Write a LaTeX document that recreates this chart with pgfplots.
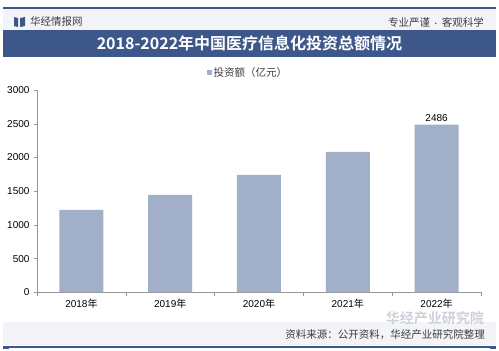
\documentclass[border=0pt]{standalone}
\usepackage{pgfplots}
\pgfplotsset{compat=1.18}
\usepackage{fontspec}
\setmainfont{Liberation Sans}
\newfontfamily\cjk{Noto Sans CJK SC}
\newfontfamily\cjkb{Noto Sans CJK SC Bold}
\definecolor{navy}{RGB}{62,87,138}
\definecolor{barcol}{RGB}{162,175,200}
\definecolor{bandgray}{RGB}{243,244,248}
\definecolor{axgray}{RGB}{150,150,150}
\definecolor{txt}{RGB}{60,60,60}
\definecolor{wm}{RGB}{205,209,216}
\begin{document}
\begin{tikzpicture}
% canvas
\fill[white] (0pt,0pt) rectangle (499pt,-351pt);
% header band
\fill[bandgray] (3pt,-9pt) rectangle (496pt,-30pt);
\draw[navy, line width=1.2pt] (3pt,-8pt) -- (496pt,-8pt);
\fill[navy] (3pt,-6.5pt) rectangle (9pt,-9pt);
\fill[navy] (490pt,-6.5pt) rectangle (496pt,-9pt);
% icon
\fill[navy] (14pt,-17pt) -- (18pt,-18pt) -- (18pt,-27pt) -- (14pt,-26pt) -- cycle;
\fill[navy] (20pt,-18pt) -- (25pt,-17pt) -- (25pt,-26pt) -- (20pt,-27pt) -- cycle;
\node[anchor=west, inner sep=0pt, text=txt, font=\cjk\fontsize{10.5}{12}\selectfont] at (30pt,-22pt) {华经情报网};
\node[anchor=east, inner sep=0pt, text=txt, font=\cjk\fontsize{10.5}{12}\selectfont] at (484pt,-22pt) {专业严谨 {\fontsize{7}{8}\selectfont•} 客观科学};
% title band
\fill[navy] (3pt,-30pt) rectangle (496pt,-57pt);
\node[text=white, inner sep=0pt, font=\cjkb\fontsize{16}{18}\selectfont] at (249.5pt,-43.5pt) {2018-2022年中国医疗信息化投资总额情况};
% footer band
\fill[bandgray] (3pt,-322pt) rectangle (496pt,-345pt);
\draw[navy, line width=1.2pt] (3pt,-347pt) -- (496pt,-347pt);
\fill[navy] (3pt,-345.5pt) rectangle (9pt,-348.5pt);
\fill[navy] (490pt,-345.5pt) rectangle (496pt,-348.5pt);
% watermark bottom right
\node[anchor=east, inner sep=0pt, text=wm, font=\cjkb\fontsize{14}{15}\selectfont] at (484pt,-318pt) {华经产业研究院};
\node[anchor=east, inner sep=0pt, text=txt, font=\cjk\fontsize{10.5}{12}\selectfont] at (485pt,-335pt) {资料来源：公开资料，华经产业研究院整理};
\begin{axis}[
  at={(37pt,-292.3pt)}, anchor=south west,
  scale only axis, width=444pt, height=202.3pt,
  xmin=-0.5, xmax=4.5, ymin=0, ymax=3000,
  ybar, bar width=44pt, bar shift=0pt,
  axis x line*=bottom, axis y line*=left,
  axis line style={axgray},
  tick align=outside,
  xtick={0,...,4},
  xticklabels={2018{\cjk 年},2019{\cjk 年},2020{\cjk 年},2021{\cjk 年},2022{\cjk 年}},
  minor xtick={-0.5,0.5,...,4.5},
  major x tick style={draw=none},
  minor x tick style={axgray},
  minor tick length=4pt,
  ytick={0,500,...,3000},
  y tick style={axgray},
  major tick length=3pt,
  tick label style={font=\fontsize{10}{12}\selectfont, text=black},
  /pgf/number format/assume math mode=true,
  /pgf/number format/1000 sep={},
  yticklabel style={xshift=-1pt},
  legend style={at={(0.475,1.085)}, anchor=center, draw=none, fill=none,
    font=\cjk\fontsize{10.5}{12}\selectfont, text=txt, inner sep=0pt},
  legend image code/.code={\fill[barcol] (0pt,-2.5pt) rectangle (5pt,2.5pt);},
  clip=false,
]
\addplot[fill=barcol, draw=none] coordinates {(0,1222) (1,1445) (2,1742) (3,2082) (4,2486)};
\addlegendentry{投资额（亿元）}
\addplot[draw=none, fill=none, forget plot, nodes near coords,
  nodes near coords style={font=\fontsize{10}{12}\selectfont, text=black, /pgf/number format/1000 sep={}, /pgf/number format/assume math mode=true}]
  coordinates {(4,2486)};
\end{axis}
\end{tikzpicture}
\end{document}
